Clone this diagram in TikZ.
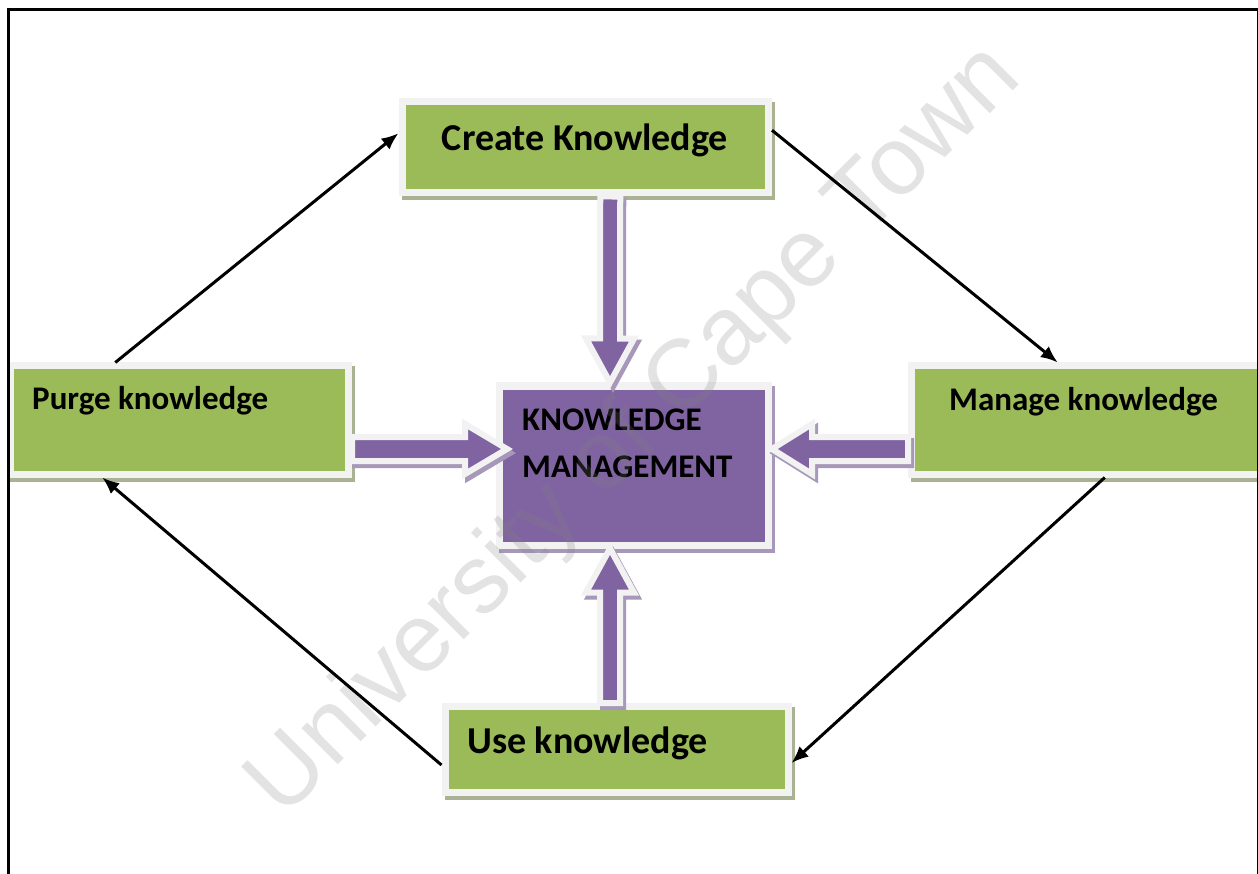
\documentclass[tikz,border=0pt]{standalone}
\usepackage{fontspec}
\setmainfont{Carlito}
\newfontfamily\wmfont{Liberation Sans}
\usetikzlibrary{calc,arrows.meta}
\definecolor{kmgreen}{HTML}{9BBB59}
\definecolor{kmpurple}{HTML}{8064A2}
\definecolor{kmborder}{HTML}{F2F2F2}
\definecolor{gshadow}{HTML}{A9B394}
\definecolor{pshadow}{HTML}{A798B9}
\newcommand\kmblockarrow[5]{%
  \coordinate (bas) at (#1);
  \coordinate (bat) at (#2);
  \coordinate (bab) at ($(bat)!#5!(bas)$);
  \draw[blockarrow] ($(bas)!#3!90:(bat)$) -- ($(bab)!#3!90:(bat)$) -- ($(bab)!#4!90:(bat)$) -- (bat)
     -- ($(bab)!#4!-90:(bat)$) -- ($(bab)!#3!-90:(bat)$) -- ($(bas)!#3!-90:(bat)$) -- cycle;
}
\begin{document}
\begin{tikzpicture}[x=1pt,y=-1pt,
  gbox/.style={rectangle, inner sep=0pt, fill=kmgreen, draw=kmborder, line width=7pt,
    preaction={fill=gshadow, draw=gshadow, line width=7pt, transform canvas={shift={(3pt,-4pt)}}}},
  pbox/.style={rectangle, inner sep=0pt, fill=kmpurple, draw=kmborder, line width=7pt,
    preaction={fill=pshadow, draw=pshadow, line width=7pt, transform canvas={shift={(3pt,-4pt)}}}},
  blockarrow/.style={fill=kmpurple, draw=kmborder, line width=6pt, line join=miter,
    preaction={fill=pshadow, draw=pshadow, line width=6pt, transform canvas={shift={(3pt,-4pt)}}}},
  flow/.style={line width=3pt, -{Latex[length=17pt,width=14pt]}},
  lblbig/.style={anchor=base west, inner sep=0pt, font=\bfseries\fontsize{38}{44}\selectfont},
  lblsmall/.style={anchor=base west, inner sep=0pt, font=\bfseries\fontsize{33}{40}\selectfont}]
\useasboundingbox (0,0) rectangle (1258,874);
\fill[white] (0,0) rectangle (1258,874);

% boxes
\node[gbox, minimum width=366.5pt, minimum height=91.5pt] (create) at (585.25,147.25) {};
\node[gbox, minimum width=338.5pt, minimum height=108pt] (purge) at (179.25,420) {};
\node[gbox, minimum width=350.5pt, minimum height=108pt] (manage) at (1086.75,420) {};
\node[pbox, minimum width=269pt, minimum height=159pt] (km) at (634,465.5) {};
\node[gbox, minimum width=343pt, minimum height=86pt] (use) at (616.5,749.5) {};

% block arrows
\kmblockarrow{[xshift=25pt]create.south}{[xshift=-24pt]km.north}{10pt}{24pt}{44pt}
\kmblockarrow{[yshift=-29pt]purge.east}{[xshift=11pt,yshift=16.5pt]km.west}{12pt}{25pt}{42pt}
\kmblockarrow{[yshift=-29pt]manage.west}{[yshift=16.5pt]km.east}{12pt}{25pt}{40pt}
\kmblockarrow{[xshift=-6.5pt]use.north}{[xshift=-24pt]km.south}{10pt}{24pt}{44pt}

% labels
\node[lblbig, anchor=base] (t-create) at (585,151) {Create Knowledge};
\node[lblsmall] (t-purge) at (32,409) {Purge knowledge};
\node[lblsmall] (t-manage) at (949,410) {Manage knowledge};
\node[lblsmall] (t-km1) at (522,430) {KNOWLEDGE};
\node[lblsmall] (t-km2) at (522,477) {MANAGEMENT};
\node[lblbig] (t-use) at (467,753) {Use knowledge};

% watermark
\node[rotate=45, inner sep=0pt, text=gray, text opacity=0.22,
  font=\wmfont\fontsize{97}{110}\selectfont] (wm) at (636,432) {University of Cape Town};

% cycle arrows
\draw[flow] ([xshift=-64pt]purge.north) -- ([yshift=14pt]create.west);
\draw[flow] ([yshift=17pt]create.east) -- ([xshift=-29pt]manage.north);
\draw[flow] ([xshift=18pt]manage.south) -- ([yshift=-13.5pt]use.east);
\draw[flow] ([yshift=-15.5pt]use.west) -- ([xshift=-77pt]purge.south);

% frame
\draw[line width=3pt] (8.5,874) -- (8.5,9.5) -- (1258,9.5);
\draw[line width=1.5pt] (1257.25,9.5) -- (1257.25,874);
\end{tikzpicture}
\end{document}
